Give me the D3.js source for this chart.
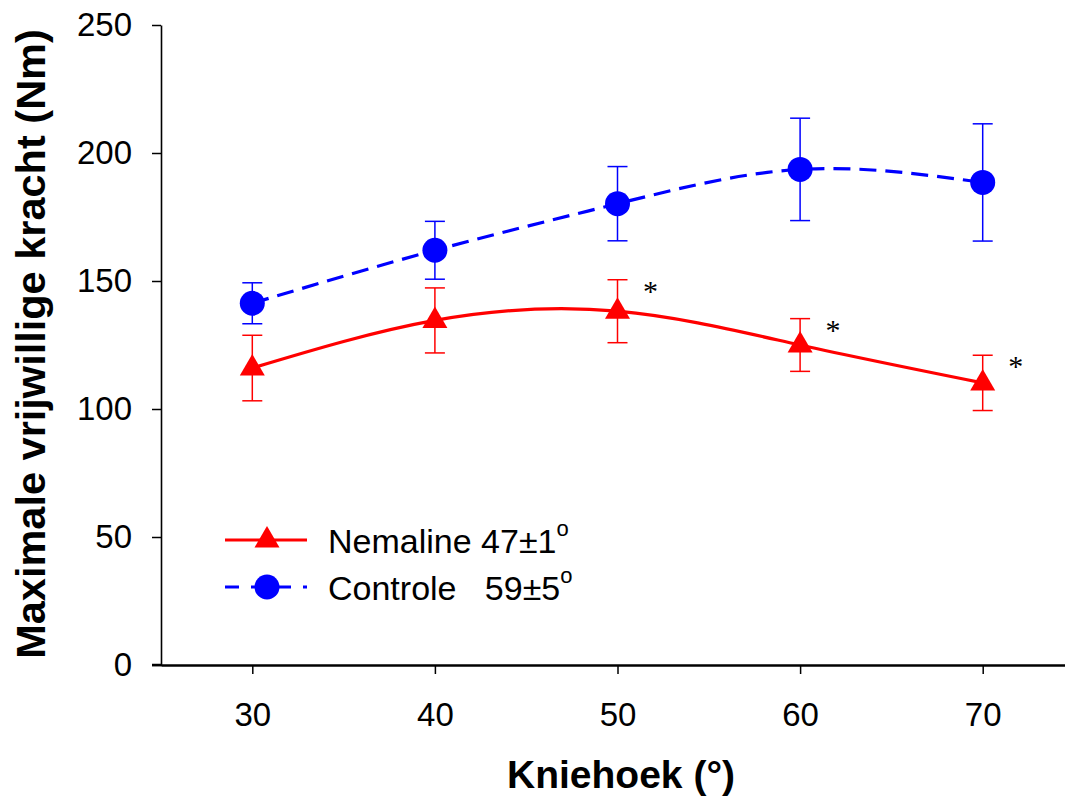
<!DOCTYPE html>
<html>
<head>
<meta charset="utf-8">
<script src="https://cdn.jsdelivr.net/npm/d3@7"></script>
<style>
  body { margin: 0; background: #fff; }
  text { font-family: "Liberation Sans", Arial, sans-serif; }
</style>
</head>
<body>
<div id="chart-area"></div>
<script>
// data
var angles = [30, 40, 50, 60, 70];
var nemaline = [116, 134.6, 138.2, 125, 110.2];
var nemalineErr = [12.8, 12.7, 12.3, 10.3, 10.8];
var controle = [141.3, 162, 180.2, 193.6, 188.5];
var controleErr = [8, 11.3, 14.5, 20, 22.9];
var significant = [false, false, true, true, true];
var xTicks = [30, 40, 50, 60, 70];
var yTicks = [0, 50, 100, 150, 200, 250];
var legendLabels = [["Nemaline 47\u00b11", "o"], ["Controle   59\u00b15", "o"]];

var width = 1065, height = 798;

var svg = d3.select("#chart-area")
    .append("svg")
    .attr("width", width)
    .attr("height", height);

var x = d3.scaleLinear().domain([25, 75]).range([161, 1074]);
var y = d3.scaleLinear().domain([0, 250]).range([665, 25]);

// axes
var yAxis = svg.append("g")
    .attr("transform", "translate(161,0)")
    .call(d3.axisLeft(y).tickValues(yTicks).tickSize(9).tickSizeOuter(0).tickPadding(20));
yAxis.select(".domain").attr("stroke-width", 1.6);
yAxis.selectAll(".tick line").attr("stroke-width", 1.5);
yAxis.selectAll(".tick text")
    .style("font-size", "33px")
    .attr("fill", "#000");

var xAxis = svg.append("g")
    .attr("transform", "translate(0,665)")
    .call(d3.axisBottom(x).tickValues(xTicks).tickSize(9).tickSizeOuter(0).tickPadding(29));
xAxis.select(".domain").attr("stroke-width", 2.5);
xAxis.selectAll(".tick line").attr("stroke-width", 1.5);
xAxis.selectAll(".tick text")
    .style("font-size", "33px")
    .attr("fill", "#000");

// x axis line runs a little left of the y axis
svg.append("line")
    .attr("x1", 152).attr("x2", 162)
    .attr("y1", 665).attr("y2", 665)
    .attr("stroke", "#000")
    .attr("stroke-width", 2.5);

// titles
svg.append("text")
    .attr("x", 621)
    .attr("y", 788)
    .attr("text-anchor", "middle")
    .style("font-size", "39px")
    .style("font-weight", "bold")
    .text("Kniehoek (\u00b0)");

svg.append("text")
    .attr("transform", "translate(45,344) rotate(-90)")
    .attr("text-anchor", "middle")
    .style("font-size", "41.5px")
    .style("font-weight", "bold")
    .text("Maximale vrijwillige kracht (Nm)");

var series = [
    { name: "nemaline", values: nemaline, err: nemalineErr, color: "#ff0000", dash: null, marker: "triangle" },
    { name: "controle", values: controle, err: controleErr, color: "#0000ff", dash: "17,9", marker: "circle" }
];

var triangle = function(cx, cy) {
    return "M" + cx + "," + (cy - 14) + "L" + (cx + 12.5) + "," + (cy + 7.5) +
        "L" + (cx - 12.5) + "," + (cy + 7.5) + "Z";
};

var line = d3.line()
    .x(function(d) { return x(d.a); })
    .y(function(d) { return y(d.v); })
    .curve(d3.curveNatural);

series.forEach(function(s) {
    var pts = angles.map(function(a, i) {
        return { a: a, v: s.values[i], e: s.err[i], sig: significant[i] };
    });
    var g = svg.append("g").attr("class", s.name);

    // error bars
    var eb = g.selectAll(".eb").data(pts).enter().append("g");
    eb.append("line")
        .attr("x1", function(d) { return x(d.a); })
        .attr("x2", function(d) { return x(d.a); })
        .attr("y1", function(d) { return y(d.v + d.e); })
        .attr("y2", function(d) { return y(d.v - d.e); })
        .attr("stroke", s.color).attr("stroke-width", 1.5);
    [1, -1].forEach(function(sign) {
        eb.append("line")
            .attr("x1", function(d) { return x(d.a) - 10; })
            .attr("x2", function(d) { return x(d.a) + 10; })
            .attr("y1", function(d) { return y(d.v + sign * d.e); })
            .attr("y2", function(d) { return y(d.v + sign * d.e); })
            .attr("stroke", s.color).attr("stroke-width", 1.5);
    });

    g.append("path")
        .datum(pts)
        .attr("d", line)
        .attr("fill", "none")
        .attr("stroke", s.color)
        .attr("stroke-width", 3.2)
        .attr("stroke-dasharray", s.dash);

    if (s.marker == "triangle") {
        g.selectAll(".mk").data(pts).enter().append("path")
            .attr("d", function(d) { return triangle(x(d.a), y(d.v)); })
            .attr("fill", s.color);
    } else {
        g.selectAll(".mk").data(pts).enter().append("circle")
            .attr("cx", function(d) { return x(d.a); })
            .attr("cy", function(d) { return y(d.v); })
            .attr("r", 12.5)
            .attr("fill", s.color);
    }
});

// significance stars on the nemaline series
angles.forEach(function(a, i) {
    if (!significant[i]) return;
    svg.append("text")
        .attr("x", x(a) + 33)
        .attr("y", y(nemaline[i] + nemalineErr[i]) + 21)
        .attr("text-anchor", "middle")
        .style("font-family", "'Liberation Serif', 'Times New Roman', serif")
        .style("font-size", "30px")
        .text("*");
});

// legend
var legend = svg.append("g");
series.forEach(function(s, i) {
    var ly = 540 + i * 47;
    legend.append("line")
        .attr("x1", 225).attr("x2", 307)
        .attr("y1", ly).attr("y2", ly)
        .attr("stroke", s.color)
        .attr("stroke-width", 3.2)
        .attr("stroke-dasharray", s.dash ? "14,12" : null);
    if (s.marker == "triangle") {
        legend.append("path").attr("d", triangle(267, ly)).attr("fill", s.color);
    } else {
        legend.append("circle").attr("cx", 267).attr("cy", ly).attr("r", 12.5).attr("fill", s.color);
    }
    var t = legend.append("text")
        .attr("x", 328)
        .attr("y", ly + 13)
        .style("font-size", "34px")
        .style("white-space", "pre")
        .attr("xml:space", "preserve");
    t.append("tspan").text(legendLabels[i][0]);
    t.append("tspan")
        .attr("dy", -17)
        .style("font-size", "22px")
        .text(legendLabels[i][1]);
});
</script>
</body>
</html>
